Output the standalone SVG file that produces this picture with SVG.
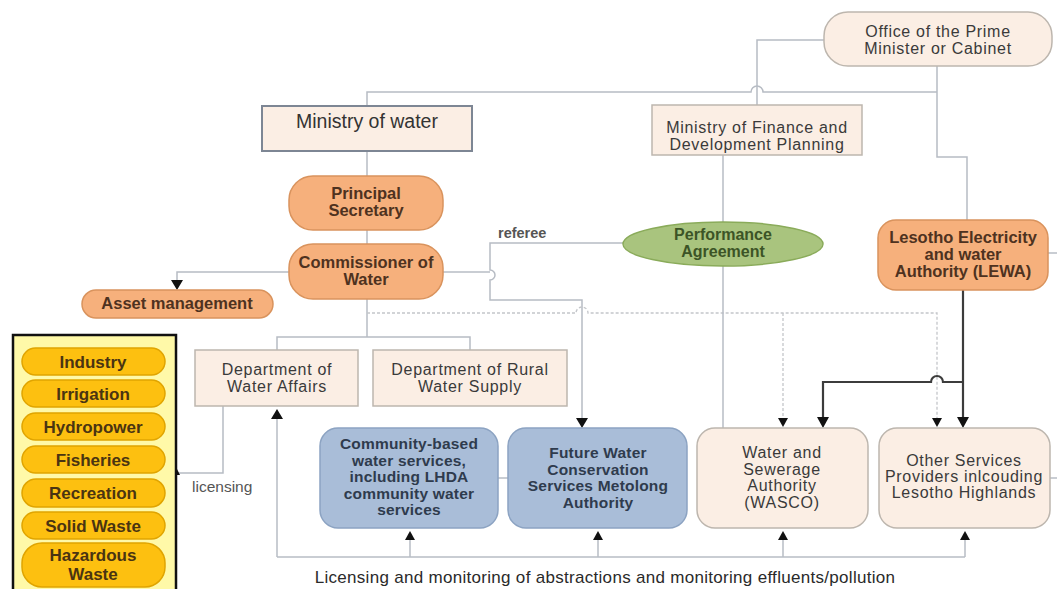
<svg xmlns="http://www.w3.org/2000/svg" width="1057" height="589" viewBox="0 0 1057 589">
<defs>
<style>
.t{font-family:"Liberation Sans",Arial,sans-serif;text-anchor:middle}
.beige{fill:#fbeee4;stroke:#bdb6ae;stroke-width:1.5}
.orange{fill:#f6b07c;stroke:#d9935d;stroke-width:1.5}
.blue{fill:#a9bdd8;stroke:#8ca3c2;stroke-width:1.5}
.pill{fill:#fdc010;stroke:#e0a400;stroke-width:1.5}
.tb{font-size:16px;letter-spacing:0.7px;fill:#3a3a3a}
.to{font-size:16.5px;font-weight:bold;fill:#4e3220}
.tblue{font-size:15.5px;font-weight:bold;letter-spacing:0.2px;fill:#2f3b4d}
.ty{font-size:17px;font-weight:bold;fill:#4a3412}
.c{fill:none;stroke:#b7bcc4;stroke-width:1.5}
.d{fill:none;stroke:#c4c6ca;stroke-width:1.3;stroke-dasharray:3 2}
.k{fill:none;stroke:#3c3c3c;stroke-width:2.2}
.a{fill:#111}
</style>
</defs>
<rect width="1057" height="589" fill="#ffffff"/>

<g id="connectors">
<path class="c" d="M824,40 H757 V105"/>
<path class="c" d="M367,106 V92 H751 a6,6 0 0 1 12,0 H937"/>
<path class="c" d="M937,66 V157 H967 V220"/>
<path class="c" d="M367,151 V176"/>
<path class="c" d="M367,230 V244"/>
<path class="c" d="M367,299 V337"/>
<path class="c" d="M277,350 V337 H470 V350"/>
<path class="c" d="M289,272 H177 V282"/>
<path class="a" d="M171,280 L183,280 L177,290 z"/>
<path class="c" d="M443,272 H490"/>
<path class="c" d="M623,243 H490 V270 a5,5 0 0 1 0,10 V300 H582 V418"/>
<path class="a" d="M576,418 L588,418 L582,428 z"/>
<path class="d" d="M367,313 H576 a6,6 0 0 1 12,0 H937 V419"/>
<path class="d" d="M783,313 V419"/>
<path class="a" d="M778,418 L788,418 L783,427 z"/>
<path class="a" d="M932,418 L942,418 L937,427 z"/>
<path class="c" d="M723,155 V428"/>
<path class="k" d="M963,290 V418"/>
<path class="k" d="M963,382 H943 a6,6 0 0 0 -12,0 H823 V418"/>
<path class="a" d="M817,417 L829,417 L823,428 z"/>
<path class="a" d="M957,417 L969,417 L963,428 z"/>
<path class="c" d="M1048,253 H1057"/>
<path class="c" d="M1050,478 H1057"/>
<path class="c" d="M498,478 H508"/>
<path class="c" d="M277,557 H965"/>
<path class="c" d="M277,557 V418"/>
<path class="a" d="M271,419 L283,419 L277,409 z"/>
<path class="c" d="M410,557 V540"/>
<path class="a" d="M405,540 L415,540 L410,531 z"/>
<path class="c" d="M598,557 V540"/>
<path class="a" d="M593,540 L603,540 L598,531 z"/>
<path class="c" d="M783,557 V540"/>
<path class="a" d="M778,540 L788,540 L783,531 z"/>
<path class="c" d="M965,557 V540"/>
<path class="a" d="M960,540 L970,540 L965,531 z"/>
<path class="c" d="M223,406 V473 H178"/>
<path class="a" d="M172,475 L180,475 L176,467 z"/>
</g>

<g id="opm">
<rect class="beige" x="824" y="12" width="228" height="54" rx="24"/>
<text class="t tb" x="938" y="37">Office of the Prime</text>
<text class="t tb" x="938" y="54">Minister or Cabinet</text>
</g>

<g id="ministry-water">
<rect x="262" y="106" width="210" height="45" fill="#fbeee4" stroke="#7d8694" stroke-width="2"/>
<text class="t" x="367" y="128" font-size="19.5" fill="#333">Ministry of water</text>
</g>

<g id="ministry-finance">
<rect class="beige" x="652" y="105" width="210" height="50"/>
<text class="t tb" x="757" y="133">Ministry of Finance and</text>
<text class="t tb" x="757" y="150">Development Planning</text>
</g>

<g id="principal-secretary">
<rect class="orange" x="289" y="176" width="154" height="54" rx="24"/>
<text class="t to" x="366" y="199">Principal</text>
<text class="t to" x="366" y="216">Secretary</text>
</g>

<g id="commissioner">
<rect class="orange" x="289" y="244" width="154" height="55" rx="24"/>
<text class="t to" x="366" y="268">Commissioner of</text>
<text class="t to" x="366" y="285">Water</text>
</g>

<g id="asset-management">
<rect class="orange" x="82" y="290" width="191" height="28" rx="14"/>
<text class="t to" x="177" y="309">Asset management</text>
</g>

<g id="performance-agreement">
<ellipse cx="723" cy="244" rx="100" ry="22" fill="#a9c47e" stroke="#8aab5a" stroke-width="1.5"/>
<text class="t" x="723" y="240" font-size="16" font-weight="bold" fill="#3c5426">Performance</text>
<text class="t" x="723" y="257" font-size="16" font-weight="bold" fill="#3c5426">Agreement</text>
</g>

<g id="referee-label">
<text x="498" y="238" font-family="'Liberation Sans',Arial,sans-serif" font-size="14.5" font-weight="bold" fill="#555">referee</text>
</g>

<g id="lewa">
<rect class="orange" x="878" y="220" width="170" height="70" rx="18"/>
<text class="t to" x="963" y="243">Lesotho Electricity</text>
<text class="t to" x="963" y="260">and water</text>
<text class="t to" x="963" y="277">Authority (LEWA)</text>
</g>

<g id="dept-water-affairs">
<rect class="beige" x="195" y="350" width="163" height="56"/>
<text class="t tb" x="277" y="375">Department of</text>
<text class="t tb" x="277" y="392">Water Affairs</text>
</g>

<g id="dept-rural">
<rect class="beige" x="373" y="350" width="194" height="56"/>
<text class="t tb" x="470" y="375">Department of Rural</text>
<text class="t tb" x="470" y="392">Water Supply</text>
</g>

<g id="community">
<rect class="blue" x="320" y="428" width="178" height="100" rx="18"/>
<text class="t tblue" x="409" y="449">Community-based</text>
<text class="t tblue" x="409" y="465.5">water services,</text>
<text class="t tblue" x="409" y="482">including LHDA</text>
<text class="t tblue" x="409" y="498.5">community water</text>
<text class="t tblue" x="409" y="515">services</text>
</g>

<g id="future-water">
<rect class="blue" x="508" y="428" width="179" height="100" rx="18"/>
<text class="t tblue" x="598" y="458">Future Water</text>
<text class="t tblue" x="598" y="474.7">Conservation</text>
<text class="t tblue" x="598" y="491.3">Services Metolong</text>
<text class="t tblue" x="598" y="508">Authority</text>
</g>

<g id="wasco">
<rect class="beige" x="697" y="428" width="171" height="100" rx="18"/>
<text class="t tb" x="782" y="458">Water and</text>
<text class="t tb" x="782" y="474.5">Sewerage</text>
<text class="t tb" x="782" y="491">Authority</text>
<text class="t tb" x="782" y="507.5">(WASCO)</text>
</g>

<g id="other-providers">
<rect class="beige" x="879" y="428" width="171" height="100" rx="18"/>
<text class="t tb" x="964" y="466">Other Services</text>
<text class="t tb" x="964" y="482">Providers inlcouding</text>
<text class="t tb" x="964" y="498">Lesotho Highlands</text>
</g>

<g id="users-panel">
<rect x="13" y="335" width="163" height="262" fill="#fff9a8" stroke="#111" stroke-width="2.5"/>
<rect class="pill" x="22" y="348" width="143" height="27" rx="13.5"/>
<text class="t ty" x="93" y="367.5">Industry</text>
<rect class="pill" x="22" y="380" width="143" height="27" rx="13.5"/>
<text class="t ty" x="93" y="399.5">Irrigation</text>
<rect class="pill" x="22" y="413" width="143" height="27" rx="13.5"/>
<text class="t ty" x="93" y="432.5">Hydropower</text>
<rect class="pill" x="22" y="446" width="143" height="27" rx="13.5"/>
<text class="t ty" x="93" y="465.5">Fisheries</text>
<rect class="pill" x="22" y="479" width="143" height="28" rx="14"/>
<text class="t ty" x="93" y="499">Recreation</text>
<rect class="pill" x="22" y="512" width="143" height="27" rx="13.5"/>
<text class="t ty" x="93" y="531.5">Solid Waste</text>
<rect class="pill" x="22" y="543" width="143" height="44" rx="20"/>
<text class="t ty" x="93" y="561">Hazardous</text>
<text class="t ty" x="93" y="580">Waste</text>
</g>

<g id="labels">
<text x="192" y="492" font-family="'Liberation Sans',Arial,sans-serif" font-size="15.5" fill="#555">licensing</text>
<text class="t" x="605" y="583" font-size="17" letter-spacing="0.3" fill="#2a2a2a">Licensing and monitoring of abstractions and monitoring effluents/pollution</text>
</g>
</svg>
